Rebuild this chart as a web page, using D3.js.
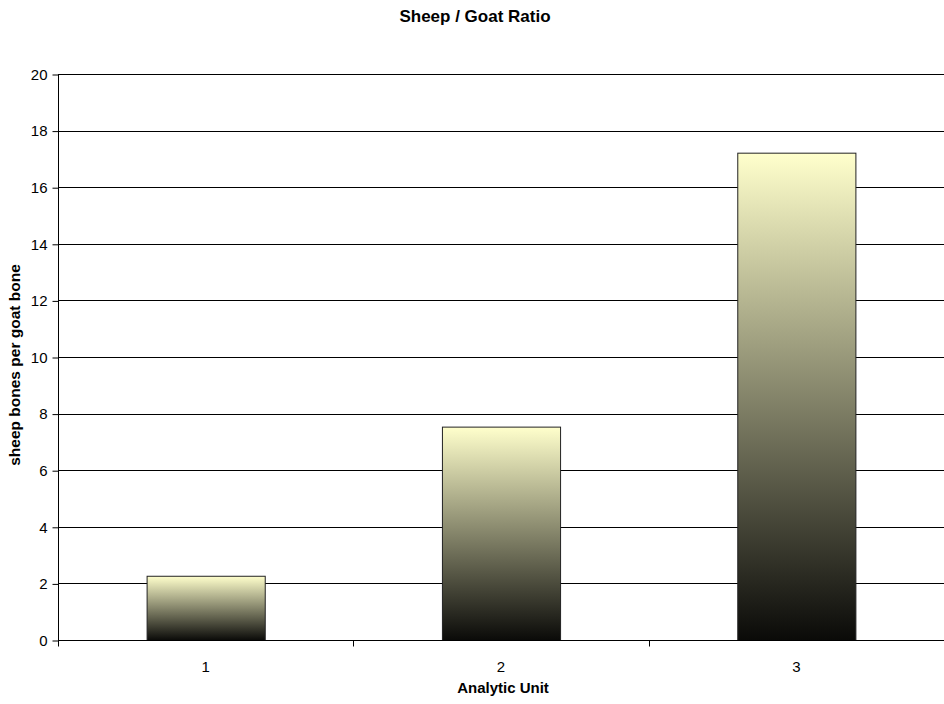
<!DOCTYPE html>
<html><head><meta charset="utf-8">
<script src="https://cdn.jsdelivr.net/npm/d3@7"></script>
<style>body{margin:0;background:#fff}svg{display:block;font-family:Arial,"Liberation Sans",sans-serif}</style>
</head><body><svg id="c" width="944" height="704"></svg>
<script>
const categories = ["1", "2", "3"];
const values = [2.27, 7.54, 17.22];
const yTicks = [0, 2, 4, 6, 8, 10, 12, 14, 16, 18, 20];

const svg = d3.select("#c");
const m = {l: 58, r: 944, t: 74, b: 640};
const x = d3.scaleBand().domain(categories).range([m.l, m.r]).paddingInner(0.6).paddingOuter(0.3);
const xb = d3.scaleBand().domain(categories).range([m.l, m.r]);
const y = d3.scaleLinear().domain([0, 20]).range([m.b, m.t]);

const defs = svg.append("defs");
const g = defs.append("linearGradient").attr("id", "grad").attr("x1", 0).attr("y1", 0).attr("x2", 0).attr("y2", 1);
g.append("stop").attr("offset", "0%").attr("stop-color", "#FFFFCC");
g.append("stop").attr("offset", "100%").attr("stop-color", "#0a0a08");

// gridlines
svg.append("g").selectAll("line").data(yTicks.slice(1)).join("line")
  .attr("x1", m.l).attr("x2", m.r).attr("y1", d => Math.round(y(d)) + 0.5).attr("y2", d => Math.round(y(d)) + 0.5)
  .attr("stroke", "#000").attr("stroke-width", 1);

// bars
svg.append("g").selectAll("rect").data(values).join("rect")
  .attr("x", (d, i) => x(categories[i]) + 0.5).attr("width", x.bandwidth())
  .attr("y", d => y(d) + 0.5).attr("height", d => y(0) - y(d))
  .attr("fill", "url(#grad)").attr("stroke", "#222").attr("stroke-width", 1);

// y axis
const ya = svg.append("g").attr("transform", `translate(${m.l + 0.5},0.5)`)
  .call(d3.axisLeft(y).tickValues(yTicks).tickSize(6).tickPadding(5).tickFormat(d3.format("d")));
ya.select(".domain").attr("d", `M0,${m.t}V${m.b}`).attr("stroke", "#000");
ya.selectAll("text").attr("font-size", 15).attr("font-family", "Arial, 'Liberation Sans', sans-serif").attr("fill", "#000");

// x axis
const xa = svg.append("g").attr("transform", `translate(0,${m.b + 0.5})`);
xa.append("line").attr("x1", m.l).attr("x2", m.r).attr("stroke", "#000");
const bounds = categories.map(c => xb(c)).concat([m.r]);
xa.selectAll("line.t").data(bounds).join("line").attr("class", "t")
  .attr("x1", d => Math.round(d) + 0.5).attr("x2", d => Math.round(d) + 0.5).attr("y1", 0).attr("y2", 6).attr("stroke", "#000");
xa.selectAll("text").data(categories).join("text")
  .attr("x", d => xb(d) + xb.bandwidth() / 2).attr("y", 31).attr("text-anchor", "middle")
  .attr("font-size", 15).text(d => d);

// titles
svg.append("text").attr("x", 475).attr("y", 22).attr("text-anchor", "middle")
  .attr("font-size", 17).attr("font-weight", "bold").text("Sheep / Goat Ratio");
svg.append("text").attr("x", 503).attr("y", 693).attr("text-anchor", "middle")
  .attr("font-size", 15).attr("font-weight", "bold").text("Analytic Unit");
svg.append("text").attr("transform", `translate(20,365) rotate(-90)`).attr("text-anchor", "middle")
  .attr("font-size", 15.5).attr("font-weight", "bold").text("sheep bones per goat bone");
</script></body></html>
